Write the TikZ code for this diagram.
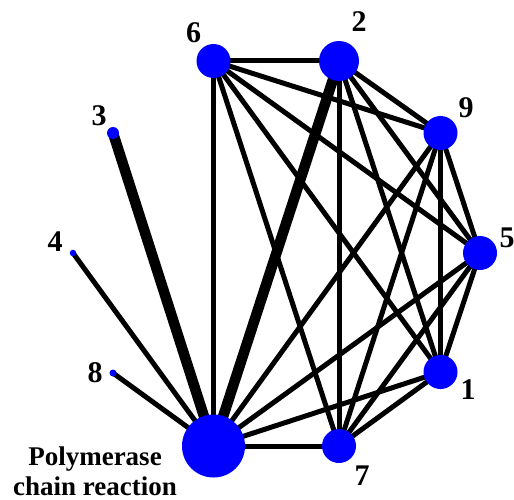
\documentclass[tikz,border=0pt]{standalone}
\usepackage{fontspec}
\setmainfont{Liberation Serif}
\usetikzlibrary{backgrounds}
\definecolor{nodeblue}{RGB}{0,0,255}
\tikzset{
  vert/.style={circle, fill=nodeblue, inner sep=0pt, minimum size=#1},
  edge/.style={line width=5pt, black},
  thickedge/.style={line width=10.5pt, black},
  lbl/.style={font=\fontsize{30}{30}\selectfont\bfseries, inner sep=0pt},
  txt/.style={font=\fontsize{27}{30}\selectfont\bfseries, inner sep=0pt, align=center},
}
\begin{document}
\begin{tikzpicture}[x=1pt,y=-1pt]
\useasboundingbox (0,0) rectangle (514,500);
\node[vert=34pt] (n6) at (213.5,61) {};
\node[vert=40pt] (n2) at (339,61) {};
\node[vert=34pt] (n9) at (440.5,133) {};
\node[vert=34pt] (n5) at (480,253) {};
\node[vert=34pt] (n1) at (440.5,372) {};
\node[vert=34pt] (n7) at (339,446) {};
\node[vert=63pt] (pcr) at (213.5,446) {};
\node[vert=12pt] (n3) at (113,133) {};
\node[vert=6.5pt] (n4) at (73,253) {};
\node[vert=7pt] (n8) at (113,373) {};
\begin{scope}[on background layer]
  \foreach \a/\b in {n6/n2,n6/n9,n6/n5,n6/n1,n6/n7,n6/pcr,
                     n2/n9,n2/n5,n2/n1,n2/n7,
                     n9/n5,n9/n1,n9/n7,n9/pcr,
                     n5/n1,n5/n7,n5/pcr,
                     n1/n7,n1/pcr,
                     n7/pcr,n4/pcr,n8/pcr}
    \draw[edge] (\a.center) -- (\b.center);
  \draw[thickedge] (n2.center) -- (pcr.center);
  \draw[thickedge] (n3.center) -- (pcr.center);
\end{scope}
\node[lbl] (l6) at (193.5,33) {6};
\node[lbl] (l2) at (359,22) {2};
\node[lbl] (l9) at (466,108) {9};
\node[lbl] (l5) at (507,238) {5};
\node[lbl] (l1) at (468,390) {1};
\node[lbl] (l7) at (362,476) {7};
\node[lbl] (l3) at (99,116) {3};
\node[lbl] (l4) at (55,242) {4};
\node[lbl] (l8) at (95,373) {8};
\node[txt] (lpcr) at (95,471) {Polymerase\\chain reaction};
\end{tikzpicture}
\end{document}
